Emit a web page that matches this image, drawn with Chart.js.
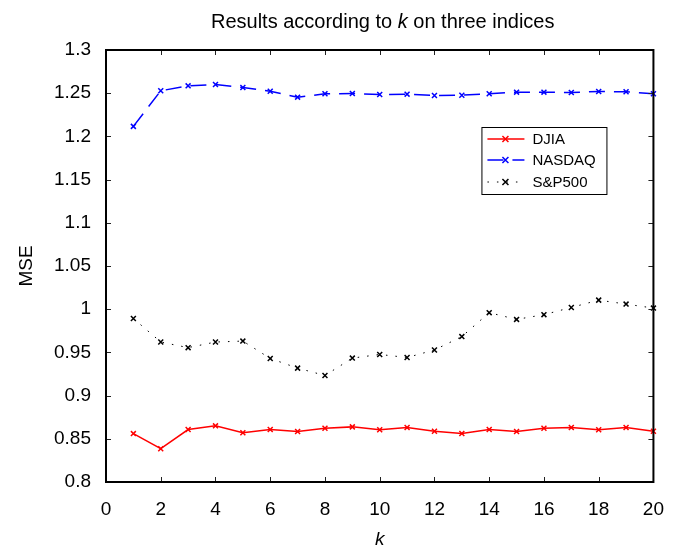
<!DOCTYPE html>
<html>
<head>
<meta charset="utf-8">
<script src="https://cdn.jsdelivr.net/npm/chart.js@4.4.1/dist/chart.umd.min.js"></script>
<style>
    html, body { margin: 0; padding: 0; background: #fff; }
    #wrap { width: 680px; height: 545px; }
</style>
</head>
<body>
<div id="wrap"><canvas id="myChart" width="680" height="545"></canvas></div>
<script>
// data
var kValues = [1, 2, 3, 4, 5, 6, 7, 8, 9, 10, 11, 12, 13, 14, 15, 16, 17, 18, 19, 20];
var djia = [0.856, 0.8385, 0.8607, 0.865, 0.857, 0.8607, 0.8584, 0.8622, 0.8638, 0.8604,
            0.863, 0.8588, 0.8561, 0.8607, 0.8584, 0.8622, 0.863, 0.8604, 0.863, 0.8588];
var nasdaq = [1.2116, 1.2528, 1.2585, 1.2601, 1.2566, 1.2523, 1.2454, 1.2493, 1.2497, 1.2485,
              1.2489, 1.2474, 1.2477, 1.2493, 1.2512, 1.2512, 1.2508, 1.252, 1.2516, 1.2493];
var sp500 = [0.9893, 0.962, 0.9555, 0.962, 0.9631, 0.943, 0.9318, 0.9233, 0.9434, 0.9476,
             0.9441, 0.9528, 0.9683, 0.996, 0.9882, 0.9937, 1.002, 1.0105, 1.0059, 1.0013];
var xTicks = [0, 2, 4, 6, 8, 10, 12, 14, 16, 18, 20];
var yTicks = [0.8, 0.85, 0.9, 0.95, 1, 1.05, 1.1, 1.15, 1.2, 1.25, 1.3];

var FONT = "'Liberation Sans', Arial, Helvetica, sans-serif";

function pts(arr) {
    return kValues.map(function(k, i) { return {x: k, y: arr[i]}; });
}

// title with italic k
var titlePlugin = {
    id: 'titlePlugin',
    afterDraw: function(chart) {
        var ctx = chart.ctx;
        var parts = [['Results according to ', 'normal'], ['k', 'italic'], [' on three indices', 'normal']];
        ctx.save();
        ctx.fillStyle = '#000';
        ctx.textBaseline = 'middle';
        ctx.textAlign = 'left';
        var total = 0;
        parts.forEach(function(p) {
            ctx.font = p[1] + ' 20px ' + FONT;
            total += ctx.measureText(p[0]).width;
        });
        var x = (chart.chartArea.left + chart.chartArea.right) / 2 - total / 2 + 3;
        parts.forEach(function(p) {
            ctx.font = p[1] + ' 20px ' + FONT;
            ctx.fillText(p[0], x, 22);
            x += ctx.measureText(p[0]).width;
        });
        ctx.restore();
    }
};

// box round the plot and inward ticks on all four sides
var boxPlugin = {
    id: 'boxPlugin',
    afterDraw: function(chart) {
        var ctx = chart.ctx, a = chart.chartArea;
        var xs = chart.scales.x, ys = chart.scales.y;
        ctx.save();
        ctx.strokeStyle = '#222';
        ctx.lineWidth = 1;
        ctx.beginPath();
        xTicks.forEach(function(v) {
            var px = Math.round(xs.getPixelForValue(v)) + 0.5;
            ctx.moveTo(px, a.bottom); ctx.lineTo(px, a.bottom - 5);
            ctx.moveTo(px, a.top); ctx.lineTo(px, a.top + 5);
        });
        yTicks.forEach(function(v) {
            var py = Math.round(ys.getPixelForValue(v)) + 0.5;
            ctx.moveTo(a.left, py); ctx.lineTo(a.left + 5, py);
            ctx.moveTo(a.right, py); ctx.lineTo(a.right - 5, py);
        });
        ctx.stroke();
        ctx.strokeStyle = '#000';
        ctx.lineWidth = 2;
        ctx.strokeRect(a.left, a.top, a.right - a.left, a.bottom - a.top);
        ctx.restore();
    }
};

// legend box inside the plot
var legendPlugin = {
    id: 'legendPlugin',
    afterDraw: function(chart) {
        var ctx = chart.ctx, a = chart.chartArea;
        var bx = a.right - 172, by = a.top + 77, bw = 125, bh = 67;
        ctx.save();
        ctx.fillStyle = '#fff';
        ctx.fillRect(bx, by, bw, bh);
        ctx.strokeStyle = '#000';
        ctx.lineWidth = 1;
        ctx.strokeRect(bx + 0.5, by + 0.5, bw, bh);
        var rows = [12, 33, 55];
        chart.data.datasets.forEach(function(ds, i) {
            var y = by + rows[i];
            ctx.strokeStyle = ds.borderColor;
            ctx.lineWidth = ds.borderWidth;
            ctx.setLineDash(ds.borderDash || []);
            ctx.beginPath();
            ctx.moveTo(bx + 6, y); ctx.lineTo(bx + 43, y);
            ctx.stroke();
            ctx.setLineDash([]);
            ctx.lineWidth = 1.5;
            var cx = bx + 24, r = 3;
            ctx.beginPath();
            ctx.moveTo(cx - r, y - r); ctx.lineTo(cx + r, y + r);
            ctx.moveTo(cx - r, y + r); ctx.lineTo(cx + r, y - r);
            ctx.stroke();
            ctx.fillStyle = '#000';
            ctx.font = '15px ' + FONT;
            ctx.textBaseline = 'middle';
            ctx.fillText(ds.label, bx + 51, y + 1);
        });
        ctx.restore();
    }
};

var ctx = document.getElementById('myChart').getContext('2d');
var myChart = new Chart(ctx, {
    type: 'line',
    data: {
        datasets: [{
            label: 'DJIA',
            data: pts(djia),
            borderColor: '#ff0000',
            backgroundColor: '#ff0000',
            borderWidth: 1.5,
            pointStyle: 'crossRot',
            pointRadius: 3.5,
            pointBorderWidth: 1.5,
            fill: false,
            tension: 0,
            clip: false
        }, {
            label: 'NASDAQ',
            data: pts(nasdaq),
            borderColor: '#0000ff',
            backgroundColor: '#0000ff',
            borderWidth: 1.5,
            borderDash: [16, 9],
            pointStyle: 'crossRot',
            pointRadius: 3.5,
            pointBorderWidth: 1.5,
            fill: false,
            tension: 0,
            clip: false
        }, {
            label: 'S&P500',
            data: pts(sp500),
            borderColor: '#000000',
            backgroundColor: '#000000',
            borderWidth: 1,
            borderDash: [1.5, 8],
            pointStyle: 'crossRot',
            pointRadius: 3.5,
            pointBorderWidth: 1.5,
            fill: false,
            tension: 0,
            clip: false
        }]
    },
    options: {
        responsive: false,
        animation: false,
        layout: {
            padding: {top: 50, right: 26, left: 0, bottom: 0}
        },
        plugins: {
            legend: { display: false },
            title: { display: false },
            tooltip: { enabled: false }
        },
        scales: {
            x: {
                type: 'linear',
                min: 0,
                max: 20,
                afterBuildTicks: function(scale) {
                    scale.ticks = xTicks.map(function(v) { return {value: v}; });
                },
                afterFit: function(scale) { scale.height = 63; },
                grid: { drawOnChartArea: false, drawTicks: false },
                border: { display: false },
                ticks: {
                    color: '#000',
                    padding: 16,
                    maxRotation: 0,
                    font: { family: FONT, size: 19 }
                },
                title: {
                    display: true,
                    text: 'k',
                    color: '#000',
                    padding: { top: 0, bottom: -6 },
                    font: { family: FONT, size: 19, style: 'italic' }
                }
            },
            y: {
                min: 0.8,
                max: 1.3,
                afterBuildTicks: function(scale) {
                    scale.ticks = yTicks.map(function(v) { return {value: v}; });
                },
                afterFit: function(scale) { scale.width = 106; },
                grid: { drawOnChartArea: false, drawTicks: false },
                border: { display: false },
                ticks: {
                    color: '#000',
                    padding: 15,
                    font: { family: FONT, size: 19 },
                    callback: function(v) { return String(+v.toFixed(2)); }
                },
                title: {
                    display: true,
                    text: 'MSE',
                    color: '#000',
                    padding: { top: 15, bottom: 0 },
                    font: { family: FONT, size: 19 }
                }
            }
        }
    },
    plugins: [boxPlugin, legendPlugin, titlePlugin]
});
</script>
</body>
</html>
